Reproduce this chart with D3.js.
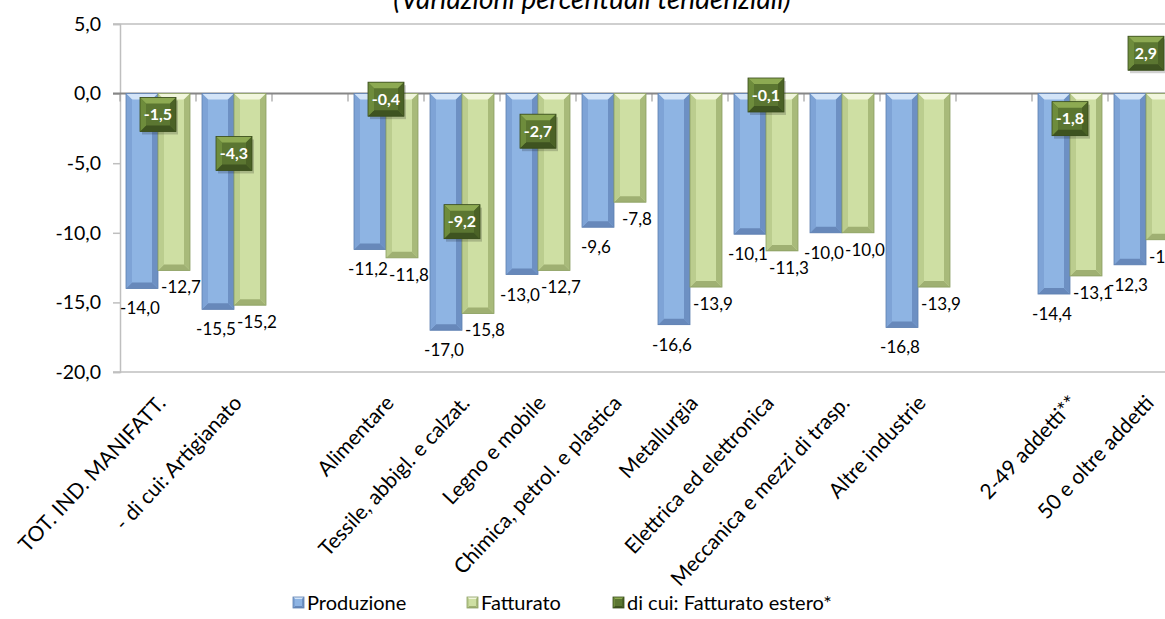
<!DOCTYPE html>
<html><head><meta charset="utf-8">
<script src="https://cdn.jsdelivr.net/npm/d3@7"></script>
<style>
body{margin:0;background:#fff}
svg{display:block}
text{font-family:Lato,"Open Sans",sans-serif;fill:#000}
</style>
</head><body>
<svg id="c" width="1165" height="619"></svg>
<script>
const categories = ["TOT. IND. MANIFATT.","- di cui: Artigianato","","Alimentare","Tessile, abbigl. e calzat.","Legno e mobile","Chimica, petrol. e plastica","Metallurgia","Elettrica ed elettronica","Meccanica e mezzi di trasp.","Altre industrie"," ","2-49 addetti**","50 e oltre addetti"];
const produzione = [-14.0,-15.5,null,-11.2,-17.0,-13.0,-9.6,-16.6,-10.1,-10.0,-16.8,null,-14.4,-12.3];
const fatturato = [-12.7,-15.2,null,-11.8,-15.8,-12.7,-7.8,-13.9,-11.3,-10.0,-13.9,null,-13.1,-10.5];
const fatturatoEstero = [-1.5,-4.3,null,-0.4,-9.2,-2.7,null,null,-0.1,null,null,null,-1.8,2.9];
const seriesNames = ["Produzione","Fatturato","di cui: Fatturato estero*"];
const yTicks = [5,0,-5,-10,-15,-20];
const title = "(Variazioni percentuali tendenziali)";

const svg = d3.select("#c");
const loc = d3.formatLocale({decimal:",",thousands:".",grouping:[3],currency:["€",""],minus:"-"});
const fmt = loc.format(".1f");

const y = d3.scaleLinear().domain([-20,5]).range([372,24]);
const x = d3.scaleBand().domain(d3.range(categories.length)).range([120,1184]).paddingInner(12/76).paddingOuter(6/76);
const xi = d3.scaleBand().domain([0,1]).range([0,x.bandwidth()]);
const step = x.step();

const pal = {
  blue:{face:"#8EB4E3",top:"#D3E4F8",left:"#7EA3D6",right:"#6D90C3",bottom:"#6788BA",stroke:"#5E7FB0"},
  green:{face:"#CEDFA3",top:"#F1F6DC",left:"#BBCD8E",right:"#A8BA7A",bottom:"#9FB072",stroke:"#8B9F62"},
  dark:{face:"#5B7631",top:"#8DAA52",left:"#6E8C3C",right:"#4B6226",bottom:"#3E5320",stroke:"#384B1B"}
};

function bevelBox(g, x0, y0, w, h, c, b){
  const x1 = x0+w, y1 = y0+h;
  g.append("rect").attr("x",x0).attr("y",y0).attr("width",w).attr("height",h).attr("fill",c.face);
  g.append("polygon").attr("points",[[x0,y0],[x1,y0],[x1-b,y0+b],[x0+b,y0+b]].join(" ")).attr("fill",c.top);
  g.append("polygon").attr("points",[[x0,y1],[x1,y1],[x1-b,y1-b],[x0+b,y1-b]].join(" ")).attr("fill",c.bottom);
  g.append("polygon").attr("points",[[x0,y0],[x0+b,y0+b],[x0+b,y1-b],[x0,y1]].join(" ")).attr("fill",c.left);
  g.append("polygon").attr("points",[[x1,y0],[x1-b,y0+b],[x1-b,y1-b],[x1,y1]].join(" ")).attr("fill",c.right);
  g.append("rect").attr("x",x0).attr("y",y0).attr("width",w).attr("height",h).attr("fill","none").attr("stroke",c.stroke).attr("stroke-width",0.8);
}

// title (partly cut at top, as in the reference)
svg.append("text").attr("x",592).attr("y",9).attr("text-anchor","middle")
  .attr("font-size",28).attr("font-style","italic").text(title);

// plot frame lines
svg.append("line").attr("x1",113).attr("x2",1165).attr("y1",y(5)).attr("y2",y(5)).attr("stroke","#BFBFBF").attr("stroke-width",1.5);
svg.append("line").attr("x1",113).attr("x2",1165).attr("y1",y(-20)).attr("y2",y(-20)).attr("stroke","#BFBFBF").attr("stroke-width",1.5);

// y axis
const yAxis = d3.axisLeft(y).tickValues(yTicks).tickSize(7).tickPadding(12).tickFormat(d=>fmt(d));
const ya = svg.append("g").attr("transform","translate(120,0)").call(yAxis);
ya.select(".domain").attr("stroke","#BFBFBF").attr("stroke-width",1.5);
ya.selectAll(".tick line").attr("stroke","#BFBFBF").attr("stroke-width",1.5);
ya.selectAll(".tick text").attr("font-size",19.5).attr("font-family","Lato,sans-serif").attr("fill","#000");

// category ticks below zero line
svg.append("g").selectAll("line").data(d3.range(categories.length+1)).join("line")
  .attr("x1",d=>120+d*step).attr("x2",d=>120+d*step)
  .attr("y1",y(0)).attr("y2",y(0)+8).attr("stroke","#A0A0A0").attr("stroke-width",1.2);

// zero line
svg.append("line").attr("x1",113).attr("x2",1165).attr("y1",y(0)).attr("y2",y(0)).attr("stroke","#868686").attr("stroke-width",2);

// bars
const barsG = svg.append("g");
const series = [{vals:produzione,c:pal.blue},{vals:fatturato,c:pal.green}];
series.forEach((s,si)=>{
  s.vals.forEach((v,i)=>{
    if(v==null) return;
    const bx = x(i)+xi(si), bw = xi.bandwidth();
    const top = Math.min(y(0),y(v)), h = Math.abs(y(v)-y(0));
    bevelBox(barsG.append("g"), bx, top, bw, h, s.c, 6);
  });
});

// bar labels
const lblG = svg.append("g");
series.forEach((s,si)=>{
  s.vals.forEach((v,i)=>{
    if(v==null) return;
    const cx = x(i)+xi(si)+xi.bandwidth()/2 + (si===1?7:-2);
    const cy = y(v) + (si===0?20:17);
    lblG.append("text").attr("x",cx).attr("y",cy).attr("dy","0.35em").attr("text-anchor","middle")
      .attr("font-size",17).text(fmt(v));
  });
});

// estero markers
const mG = svg.append("g");
fatturatoEstero.forEach((v,i)=>{
  if(v==null) return;
  const cx = x(i)+x.bandwidth()/2, cy = y(v);
  const w=36,h=34;
  mG.append("rect").attr("x",cx-w/2+2).attr("y",cy-h/2+3).attr("width",w).attr("height",h).attr("fill","#000").attr("opacity",0.18);
  bevelBox(mG.append("g"), cx-w/2, cy-h/2, w, h, pal.dark, 6);
  mG.append("text").attr("x",cx).attr("y",cy).attr("dy","0.36em").attr("text-anchor","middle")
    .attr("font-size",16).attr("font-weight","bold").style("fill","#fff").text(fmt(v));
});

// category labels
const cG = svg.append("g");
categories.forEach((c,i)=>{
  if(!c.trim()) return;
  const ax = x(i)+x.bandwidth()/2+9, ay = 404;
  cG.append("text").attr("transform",`translate(${ax},${ay}) rotate(-47)`).attr("text-anchor","end")
    .attr("font-size",21).text(c);
});

// legend
const legX = [293,467,613];
const legC = [pal.blue,pal.green,pal.dark];
seriesNames.forEach((n,i)=>{
  const g = svg.append("g");
  bevelBox(g, legX[i], 597, 11, 11, legC[i], 2);
  svg.append("text").attr("x",legX[i]+14).attr("y",610).attr("font-size",20).text(n);
});
</script>
</body></html>
